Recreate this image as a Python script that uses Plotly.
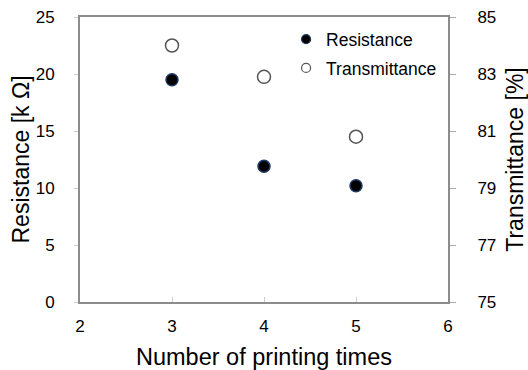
import plotly.graph_objects as go

printing_times = [3, 4, 5]
resistance = [19.5, 11.9, 10.2]
transmittance = [84.0, 82.9, 80.8]

x_ticks = [2, 3, 4, 5, 6]
y1_ticks = [0, 5, 10, 15, 20, 25]
y2_ticks = [75, 77, 79, 81, 83, 85]

FONT = "Liberation Sans, Arial, sans-serif"
AX = "#8c8c8c"

fig = go.Figure()
# data traces
fig.add_trace(go.Scatter(
    x=printing_times, y=resistance, mode="markers", name="Resistance",
    showlegend=False,
    marker=dict(symbol="circle", size=12, color="#000000",
                line=dict(color="#1f3864", width=1.5)),
))
fig.add_trace(go.Scatter(
    x=printing_times, y=transmittance, mode="markers", name="Transmittance",
    yaxis="y2", showlegend=False,
    marker=dict(symbol="circle", size=13, color="#ffffff",
                line=dict(color="#555555", width=1.5)),
))
# legend entries
fig.add_trace(go.Scatter(
    x=[None], y=[None], mode="markers", name="Resistance", legendgroup="a",
    marker=dict(symbol="circle", size=9, color="#000000",
                line=dict(color="#1f3864", width=1.2)),
))
fig.add_trace(go.Scatter(
    x=[None], y=[None], mode="markers", name="Transmittance", legendgroup="b",
    yaxis="y2",
    marker=dict(symbol="circle", size=9, color="#ffffff",
                line=dict(color="#555555", width=1.2)),
))

fig.update_layout(
    width=528, height=370,
    margin=dict(l=80, r=80, t=17, b=68),
    paper_bgcolor="white", plot_bgcolor="white",
    font=dict(family=FONT, color="#000000", size=17),
    xaxis=dict(
        range=[2, 6], tickvals=x_ticks, ticktext=[str(v) for v in x_ticks],
        showgrid=False, zeroline=False, automargin=False,
        showline=True, linecolor=AX, linewidth=2, mirror=True,
        ticks="inside", ticklen=5, tickcolor="#cccccc", tickwidth=1,
        tickfont=dict(size=17), ticklabelstandoff=8,
        title=dict(text="Number of printing times", font=dict(size=23.5), standoff=19),
    ),
    yaxis=dict(
        range=[0, 25], tickvals=y1_ticks, ticktext=[str(v) for v in y1_ticks],
        showgrid=False, zeroline=False, automargin=False,
        showline=True, linecolor=AX, linewidth=2,
        ticks="outside", ticklen=4, tickcolor="#cccccc", tickwidth=1,
        tickfont=dict(size=17), ticklabelstandoff=16,
        title=dict(text="Resistance [k Ω]", font=dict(size=23), standoff=0),
    ),
    yaxis2=dict(
        range=[75, 85], tickvals=y2_ticks, ticktext=[str(v) for v in y2_ticks],
        overlaying="y", side="right", automargin=False,
        showgrid=False, zeroline=False,
        showline=True, linecolor=AX, linewidth=2,
        ticks="outside", ticklen=6, tickcolor="#aaaaaa", tickwidth=1,
        tickfont=dict(size=17), ticklabelstandoff=18,
        title=dict(text="Transmittance [%]", font=dict(size=23), standoff=14),
    ),
    legend=dict(
        x=0.56, y=0.985, xanchor="left", yanchor="top",
        bgcolor="rgba(0,0,0,0)", font=dict(size=17.5),
        tracegroupgap=3, itemsizing="trace",
    ),
)

fig.write_html("out.html")
